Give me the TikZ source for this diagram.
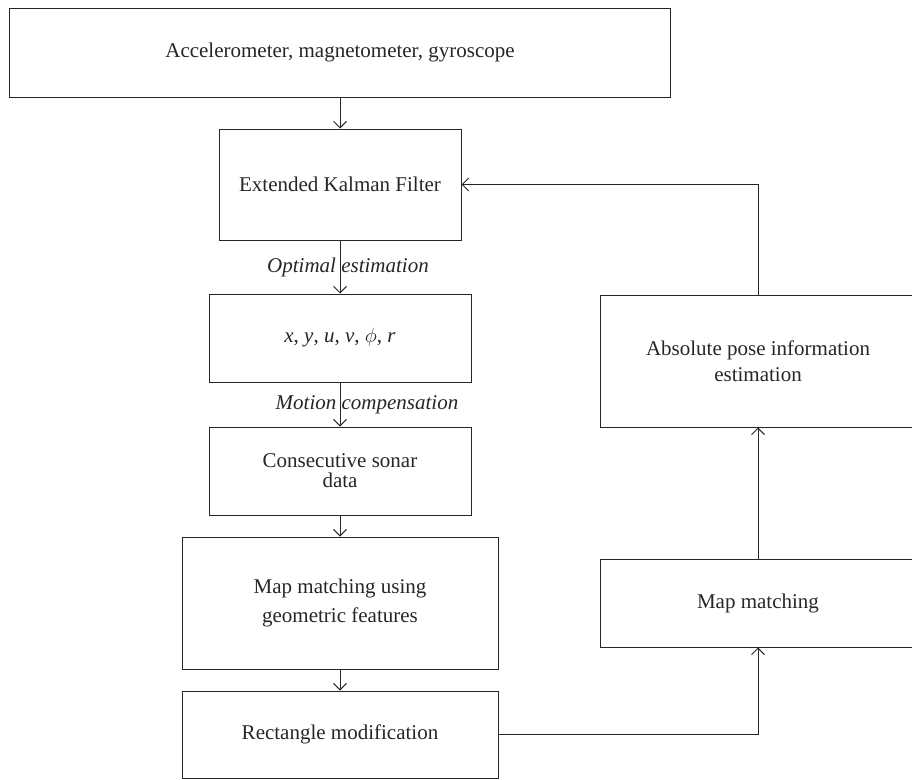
\documentclass[tikz,border=0pt]{standalone}
\usepackage{fontspec}
\setmainfont{Liberation Serif}
\usetikzlibrary{arrows.meta}

\begin{document}
\begin{tikzpicture}[x=1pt,y=-1pt,line width=1pt,draw=black!85,
    >={Straight Barb[length=6.5pt,width=13pt]}]

      \useasboundingbox (0,0) rectangle (912,779);

      \begin{scope}[every node/.style={draw,rectangle,align=center,inner sep=0pt,
          text=black!85,font=\fontsize{21}{26}\selectfont}]
        \node[minimum width=661,minimum height=89]  (sens)  at (340,52.5)  {Accelerometer, magnetometer, gyroscope};
        \node[minimum width=242,minimum height=111] (ekf)   at (340,184.5) {Extended Kalman Filter};
        \node[minimum width=262,minimum height=88]  (state) at (340,338)   {\textit{x}, \textit{y}, \textit{u}, \textit{v}, $\phi$, \textit{r}};
        \node[minimum width=262,minimum height=88,font=\fontsize{21}{20}\selectfont]
                                                    (sonar) at (340,471)   {Consecutive sonar\\data};
        \node[minimum width=316,minimum height=132,font=\fontsize{21}{29}\selectfont]
                                                    (geo)   at (340,603)   {Map matching using\\geometric features};
        \node[minimum width=316,minimum height=87]  (rect)  at (340,734.5) {Rectangle modification};
        \node[minimum width=316,minimum height=132] (pose)  at (758,361)   {Absolute pose information\\estimation};
        \node[minimum width=316,minimum height=88]  (match) at (758,603)   {Map matching};
      \end{scope}

      \begin{scope}[every node/.style={text=black!85,font=\fontsize{21}{26}\selectfont\itshape}]

        \begin{scope}[every edge/.style={draw,->}]
          \path (sens)  edge (ekf);
          \path (ekf)   edge node[xshift=8] {Optimal estimation} (state);
          \path (state) edge node[xshift=27] {Motion compensation} (sonar);
          \path (sonar) edge (geo);
          \path (geo)   edge (rect);
          \path (match) edge (pose);
        \end{scope}

        \draw[->] (rect.east) -| (match.south);
        \draw[->] (pose.north) |- (ekf.east);

      \end{scope}

    \end{tikzpicture}
\end{document}
